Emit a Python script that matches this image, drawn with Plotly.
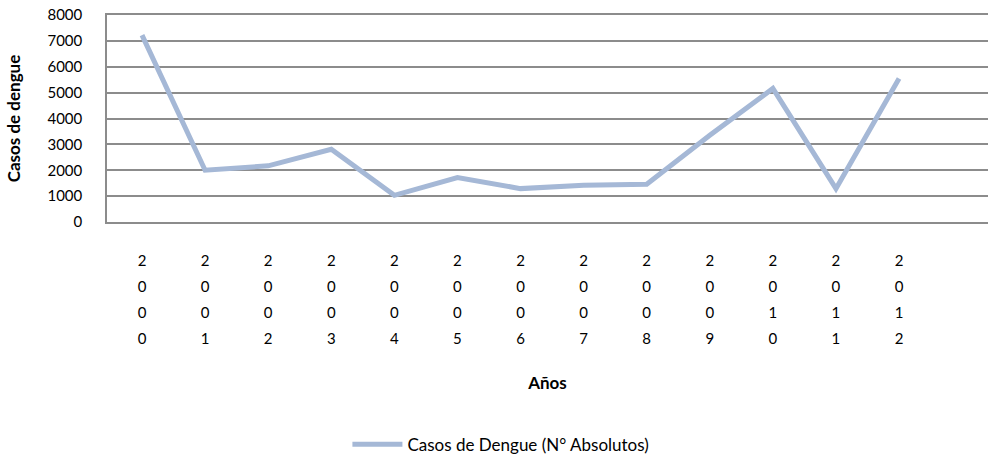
import plotly.graph_objects as go

years = ["2000", "2001", "2002", "2003", "2004", "2005", "2006",
         "2007", "2008", "2009", "2010", "2011", "2012"]
cases = [7220, 2000, 2170, 2810, 1030, 1720, 1290, 1420, 1460, 3350, 5160, 1290, 5550]
series_name = "Casos de Dengue (N° Absolutos)"
y_ticks = [0, 1000, 2000, 3000, 4000, 5000, 6000, 7000, 8000]

FONT = "Lato, Calibri, Carlito, sans-serif"
FS_NUM = 15
FS_TXT = 17

tick_text = ["<br>".join("<span style='font-size:%spx'>%s</span>" % (FS_NUM, ch) for ch in y) for y in years]

fig = go.Figure()
fig.add_trace(go.Scatter(
    x=list(range(len(years))), y=cases, mode="lines", name=series_name,
    line=dict(color="#A5B8D6", width=5),
))

fig.update_layout(
    width=988, height=455,
    margin=dict(l=107, r=0, t=15, b=233, autoexpand=False),
    paper_bgcolor="white", plot_bgcolor="white",
    font=dict(family=FONT, size=FS_NUM, color="black"),
    showlegend=True,
    legend=dict(orientation="h", xref="container", x=0.507, xanchor="center",
                yref="container", y=0.062, yanchor="top", font=dict(size=FS_TXT),
                itemwidth=50),
)
fig.update_xaxes(
    range=[-0.555, 13.41], tickmode="array", automargin=False,
    tickvals=list(range(len(years))), ticktext=tick_text,
    tickfont=dict(size=20, family=FONT), showgrid=False, zeroline=False,
    showline=True, mirror=True, linecolor="#8C8C8C", linewidth=1.5,
    ticks="", ticklabelstandoff=18,
    title=dict(text="<b>Años</b>", font=dict(size=FS_TXT, family=FONT), standoff=31),
)
fig.update_yaxes(
    range=[0, 8000], tickmode="array", tickvals=y_ticks, automargin=False,
    showgrid=True, gridcolor="#8C8C8C", gridwidth=1.5,
    showline=True, linecolor="#8C8C8C", linewidth=1.5,
    zeroline=False, ticks="", tickfont=dict(size=FS_NUM), ticklabelstandoff=20,
    title=dict(text="<b>Casos de dengue</b>", font=dict(size=FS_TXT), standoff=22),
)

fig.write_html("out.html", config={"displayModeBar": False},
               post_script="document.body.style.margin='0px';")
